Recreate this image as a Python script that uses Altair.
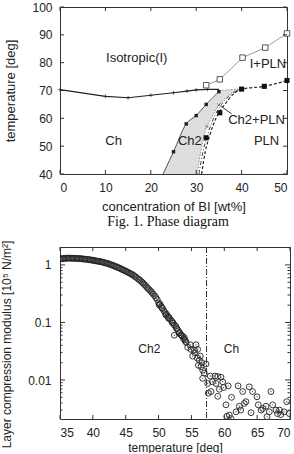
import altair as alt
import pandas as pd

SANS = "Liberation Sans"
SERIF = "Liberation Serif"
INK = "#222222"
FRAME = "#333333"

# ---------------- Fig. 1: phase diagram (temperature vs. BI concentration) ----------------
# I -> Ch transition line with "+" markers
ich_conc = [0, 10, 15, 20, 25, 28, 30, 32.5, 35]
ich_temp = [70.3, 67.9, 67.4, 68.3, 69.2, 69.8, 70.2, 70.4, 70.4]
plus_conc = [0, 10, 15, 20, 25, 28, 30, 32.5]
plus_temp = [70.3, 67.9, 67.4, 68.3, 69.2, 69.8, 70.2, 70.4]

# Ch / Ch2 boundary (thin solid curve with small filled squares)
chb_conc = [22.7, 25.0, 27.8, 30.0, 32.2, 35.0]
chb_temp = [40.0, 48.0, 58.0, 61.0, 65.0, 69.6]
chb_mark_conc = [25.0, 27.8, 30.0, 32.2, 35.0]
chb_mark_temp = [48.0, 58.0, 61.0, 65.0, 69.6]

# Ch2 region (shaded band): left / right edge at each temperature
band_temp = [40, 44, 48, 52, 56, 58, 60, 62, 64, 66, 68, 69.5, 70.2, 70.5]
band_left = [22.7, 23.8, 25.0, 26.0, 27.0, 27.8, 29.0, 30.6, 31.8, 33.0, 34.2, 35.0, 36.5, 39.6]
band_right = [30.2, 30.6, 31.0, 31.5, 32.1, 32.7, 33.3, 34.0, 34.7, 35.7, 36.9, 38.2, 39.3, 40.0]

# Ch2 / Ch2+PLN boundary (gray dotted) with "x" markers
ch2b_conc = [30.2, 31.0, 32.1, 33.3, 34.7, 36.9, 38.2, 40.0]
ch2b_temp = [40.0, 48.0, 56.0, 60.0, 64.0, 68.0, 69.5, 70.5]
xmark_conc = [32.4, 35.0]
xmark_temp = [57.0, 64.8]

# Ch2 upper limit (dotted)
top_conc = [35.0, 37.5, 40.0]
top_temp = [69.9, 70.3, 70.6]

# Ch2+PLN / PLN boundaries
dd_conc = [30.6, 31.5, 32.7, 34.1, 35.6, 37.6, 40.0]
dd_temp = [40.0, 48.0, 55.0, 61.0, 65.0, 68.5, 70.5]
pln_conc = [31.2, 32.0, 33.0, 34.5, 36.3, 38.2, 40.0, 45.0, 50.0]
pln_temp = [40.0, 48.0, 54.0, 60.5, 65.0, 68.7, 70.5, 71.5, 73.6]
plnmark_conc = [32.2, 35.2, 40.0, 45.0, 50.0]
plnmark_temp = [53.0, 62.0, 70.5, 71.5, 73.6]

# I / I+PLN boundary (gray line, open squares)
ipln_conc = [32.2, 35.2, 40.2, 45.2, 50.0]
ipln_temp = [71.9, 74.0, 81.8, 85.4, 90.5]

# leader line for the "Ch2+PLN" label
lead_conc = [35.5, 37.8]
lead_temp = [64.3, 61.6]

phase_labels = ["Isotropic(I)", "I+PLN", "Ch2+PLN", "Ch", "Ch2", "PLN"]
phase_label_conc = [16.9, 45.8, 43.3, 11.8, 28.6, 45.5]
phase_label_temp = [81.8, 79.4, 59.4, 51.8, 51.8, 51.8]

conc_ticks = [0, 10, 20, 30, 40, 50]
temp_ticks = [40, 50, 60, 70, 80, 90, 100]

# ---------------- Fig. 2: layer compression modulus vs. temperature ----------------
temp_dense = [
    35.0, 35.2, 35.4, 35.6, 35.8, 36.0, 36.2, 36.4, 36.6, 36.8,
    37.0, 37.2, 37.4, 37.6, 37.8, 38.0, 38.2, 38.4, 38.6, 38.8,
    39.0, 39.2, 39.4, 39.6, 39.8, 40.0, 40.2, 40.4, 40.6, 40.8,
    41.0, 41.2, 41.4, 41.6, 41.8, 42.0, 42.2, 42.4, 42.6, 42.8,
    43.0, 43.2, 43.4, 43.6, 43.8, 44.0, 44.2, 44.4, 44.6, 44.8,
    45.0, 45.2, 45.4, 45.6, 45.8, 46.0, 46.2, 46.4, 46.6, 46.8,
    47.0, 47.2, 47.4, 47.6, 47.8, 48.0, 48.2, 48.4, 48.6, 48.8,
    49.0, 49.2, 49.4, 49.6, 49.8, 50.0, 50.2, 50.4, 50.6, 50.8,
    51.0, 51.2, 51.4, 51.6, 51.8, 52.0, 52.2, 52.4, 52.6, 52.8,
    53.0, 53.2, 53.4, 53.6, 53.8, 54.0, 54.2,
]
modulus_dense = [
    1.27, 1.29, 1.28, 1.30, 1.31, 1.30, 1.31, 1.32, 1.30, 1.31,
    1.31, 1.30, 1.30, 1.29, 1.30, 1.28, 1.29, 1.27, 1.27, 1.26,
    1.25, 1.25, 1.23, 1.23, 1.21, 1.21, 1.19, 1.18, 1.17, 1.16,
    1.15, 1.14, 1.12, 1.11, 1.09, 1.08, 1.06, 1.05, 1.02, 1.00,
    0.99, 0.97, 0.94, 0.93, 0.90, 0.89, 0.86, 0.84, 0.82, 0.80,
    0.78, 0.76, 0.74, 0.72, 0.70, 0.68, 0.66, 0.63, 0.61, 0.58,
    0.56, 0.54, 0.51, 0.49, 0.46, 0.44, 0.41, 0.39, 0.37, 0.35,
    0.33, 0.31, 0.29, 0.27, 0.25, 0.22, 0.21, 0.19, 0.175, 0.16,
    0.148, 0.14, 0.128, 0.122, 0.112, 0.106, 0.099, 0.090, 0.087, 0.078,
    0.072, 0.067, 0.061, 0.058, 0.052, 0.050, 0.045,
]
temp_extra = [50.1, 50.5, 51.1, 51.5, 52.1, 52.4, 52.7, 53.1, 53.5, 53.9, 54.1]
modulus_extra = [0.20, 0.18, 0.135, 0.118, 0.098, 0.060, 0.080, 0.065, 0.060, 0.055, 0.047]

temp_scatter = [
    54.43, 54.83, 54.94, 55.19, 55.44, 55.5, 55.7, 55.9, 55.95, 56.05,
    56.2, 56.35, 56.46, 56.6, 56.71, 56.71, 56.96, 57.22, 57.47, 57.57,
    57.87, 57.98, 58.2, 58.59, 58.74, 59.0, 59.0, 59.25, 59.5, 59.76,
    59.9, 60.26, 60.4, 60.6, 60.77, 61.0, 61.1, 61.8, 62.1, 62.3,
    62.5, 62.8, 63.05, 63.3, 63.8, 64.07, 64.3, 64.98, 65.18, 65.6,
    65.85, 66.35, 66.5, 66.85, 67.1, 67.36, 67.87, 68.1, 68.4, 68.6,
    69.1, 69.5, 69.9,
]
modulus_scatter = [
    0.037, 0.041, 0.034, 0.026, 0.033, 0.030, 0.041, 0.024, 0.034, 0.018,
    0.022, 0.026, 0.017, 0.020, 0.0148, 0.0107, 0.0132, 0.019, 0.0087, 0.0059,
    0.0117, 0.0063, 0.0093, 0.0117, 0.0087, 0.0115, 0.0052, 0.0069, 0.0112, 0.0093,
    0.0074, 0.0037, 0.00234, 0.0079, 0.00245, 0.00214, 0.0050, 0.0028, 0.0079, 0.0035,
    0.0030, 0.0063, 0.0039, 0.0042, 0.0076, 0.0027, 0.0063, 0.0051, 0.0037, 0.0030,
    0.0032, 0.0035, 0.0023, 0.0028, 0.0063, 0.0037, 0.0030, 0.0026, 0.0030, 0.0025,
    0.0028, 0.0042, 0.0026,
]

transition_temp = 57.3
region_labels = ["Ch2", "Ch"]
region_label_temp = [48.6, 61.1]
region_label_mod = [0.035, 0.035]

temp_axis_ticks = [35, 40, 45, 50, 55, 60, 65, 70]
mod_major_ticks = [0.01, 0.1, 1]
mod_minor_ticks = [0.003, 0.004, 0.005, 0.006, 0.007, 0.008, 0.009,
                   0.02, 0.03, 0.04, 0.05, 0.06, 0.07, 0.08, 0.09,
                   0.2, 0.3, 0.4, 0.5, 0.6, 0.7, 0.8, 0.9, 2]

# ---------------- shared scales and axes ----------------
W1, H1 = 227, 167
W2, H2 = 230, 172

cx = alt.Scale(domain=[0, 50], nice=False)
ty = alt.Scale(domain=[40, 100], nice=False)
tx = alt.Scale(domain=[35, 70], nice=False)
my = alt.Scale(type="log", domain=[0.0021, 2.05], nice=False)

axis_common = dict(ticks=False, domain=False, grid=False, labelFont=SANS, labelFontSize=12,
                   labelColor=INK, titleFont=SANS, titleFontWeight="normal", titleColor=INK)

x_axis1 = alt.Axis(values=conc_ticks, labelPadding=8, title="concentration of BI [wt%]",
                   titleFontSize=13, titlePadding=7, **axis_common)
y_axis1 = alt.Axis(values=temp_ticks, labelPadding=8, title="temperature [deg]",
                   titleFontSize=13, titlePadding=14, **axis_common)
x_axis2 = alt.Axis(values=temp_axis_ticks, labelPadding=8, title="temperature [deg]",
                   titleFontSize=12, titlePadding=4, **axis_common)
y_axis2 = alt.Axis(values=mod_major_ticks, format="~g", labelPadding=9,
                   title="Layer compression modulus [10⁵ N/m²]", titleFontSize=12,
                   titlePadding=14, titleY=97, **axis_common)


def X1(field):
    return alt.X(field, scale=cx, axis=x_axis1)


def Y1(field):
    return alt.Y(field, scale=ty, axis=y_axis1)


def X2(field):
    return alt.X(field, scale=tx, axis=x_axis2)


def Y2(field):
    return alt.Y(field, scale=my, axis=y_axis2)


def inward_x_ticks(values, X, h, length):
    base = alt.Chart(pd.DataFrame({"v": values})).mark_rule(color=FRAME, strokeWidth=1)
    return (base.encode(x=X("v:Q"), y=alt.value(h), y2=alt.value(h - length))
            + base.encode(x=X("v:Q"), y=alt.value(0), y2=alt.value(length)))


def inward_y_ticks(values, Y, w, length):
    base = alt.Chart(pd.DataFrame({"v": values})).mark_rule(color=FRAME, strokeWidth=1)
    return (base.encode(y=Y("v:Q"), x=alt.value(0), x2=alt.value(length))
            + base.encode(y=Y("v:Q"), x=alt.value(w), x2=alt.value(w - length)))


# ---------------- phase diagram ----------------
def cline(conc, temp, **mark):
    df = pd.DataFrame({"c": conc, "t": temp, "o": list(range(len(conc)))})
    return alt.Chart(df).mark_line(**mark).encode(x=X1("c:Q"), y=Y1("t:Q"), order="o:Q")


def cpoints(conc, temp, **mark):
    df = pd.DataFrame({"c": conc, "t": temp})
    return alt.Chart(df).mark_point(**mark).encode(x=X1("c:Q"), y=Y1("t:Q"))


band = alt.Chart(pd.DataFrame({"t": band_temp, "l": band_left, "r": band_right})).mark_area(
    orient="horizontal", interpolate="monotone", color="#dedede", opacity=1
).encode(y=Y1("t:Q"), x=X1("l:Q"), x2="r:Q")

plus_path = "M-1,0L1,0M0,-1L0,1"
x_path = "M-1,-1L1,1M1,-1L-1,1"

phase = alt.layer(
    band,
    cline(ch2b_conc, ch2b_temp, interpolate="monotone", color="#8c8c8c", strokeWidth=1, strokeDash=[1.5, 1.5]),
    cline(top_conc, top_temp, interpolate="monotone", color="#8c8c8c", strokeWidth=1, strokeDash=[1.5, 1.5]),
    cline(dd_conc, dd_temp, interpolate="monotone", color="#444444", strokeWidth=1, strokeDash=[4, 2, 1, 2]),
    cline(pln_conc, pln_temp, interpolate="monotone", color="#222222", strokeWidth=1.2, strokeDash=[3, 2]),
    cline(chb_conc, chb_temp, interpolate="monotone", color="#444444", strokeWidth=0.9),
    cline(ich_conc, ich_temp, color="#222222", strokeWidth=1.2),
    cline(ipln_conc, ipln_temp, color="#9a9a9a", strokeWidth=1),
    cline(lead_conc, lead_temp, color="#333333", strokeWidth=1),
    cpoints(plus_conc, plus_temp, shape=plus_path, size=14, color="#222222", strokeWidth=1),
    cpoints(chb_mark_conc, chb_mark_temp, shape="square", size=12, filled=True, color="#222222", opacity=1),
    cpoints(plnmark_conc, plnmark_temp, shape="square", size=26, filled=True, color="#111111", opacity=1),
    cpoints(ipln_conc, ipln_temp, shape="square", size=30, filled=True, fill="white",
            stroke="#555555", strokeWidth=1, opacity=1),
    cpoints(xmark_conc, xmark_temp, shape=x_path, size=12, color="#555555", strokeWidth=1),
    alt.Chart(pd.DataFrame({"lab": phase_labels, "c": phase_label_conc, "t": phase_label_temp})).mark_text(
        font=SANS, fontSize=13, color=INK, align="center", baseline="middle"
    ).encode(x=X1("c:Q"), y=Y1("t:Q"), text="lab:N"),
    inward_x_ticks(conc_ticks, X1, H1, 4),
    inward_y_ticks(temp_ticks, Y1, W1, 4),
).properties(width=W1, height=H1)

# ---------------- modulus vs temperature ----------------
points_df = pd.DataFrame({
    "T": temp_dense + temp_extra + temp_scatter,
    "B": modulus_dense + modulus_extra + modulus_scatter,
})

circles = alt.Chart(points_df).mark_point(
    shape="circle", filled=False, size=34, color="#222222", strokeWidth=1, opacity=0.9, clip=True
).encode(x=X2("T:Q"), y=Y2("B:Q"))
centres = alt.Chart(points_df).mark_circle(size=2, color="#444444", opacity=0.8, clip=True).encode(
    x=X2("T:Q"), y=Y2("B:Q"))

transition = alt.Chart(pd.DataFrame({"T": [transition_temp]})).mark_rule(
    color="#333333", strokeWidth=1, strokeDash=[6, 2, 1, 2]
).encode(x=X2("T:Q"))

region_text = alt.Chart(pd.DataFrame({"lab": region_labels, "T": region_label_temp, "B": region_label_mod})).mark_text(
    font=SANS, fontSize=12, color=INK, align="center", baseline="middle"
).encode(x=X2("T:Q"), y=Y2("B:Q"), text="lab:N")

modulus = alt.layer(
    circles, centres, transition, region_text,
    inward_x_ticks(temp_axis_ticks, X2, H2, 4),
    inward_y_ticks(mod_major_ticks, Y2, W2, 5),
    inward_y_ticks(mod_minor_ticks, Y2, W2, 2.5),
).properties(
    width=W2, height=H2,
    title=alt.Title("Fig. 1. Phase diagram", font=SERIF, fontSize=14, fontWeight="normal",
                    color="#111111", anchor="middle", frame="group", offset=11, dx=-7),
)

chart = alt.vconcat(phase, modulus, spacing=0).properties(
    padding={"left": 0, "right": -2, "top": 0, "bottom": -1}
).configure_view(stroke=FRAME, strokeWidth=1)

chart.save("out.html", embed_options={"renderer": "svg", "actions": False})
